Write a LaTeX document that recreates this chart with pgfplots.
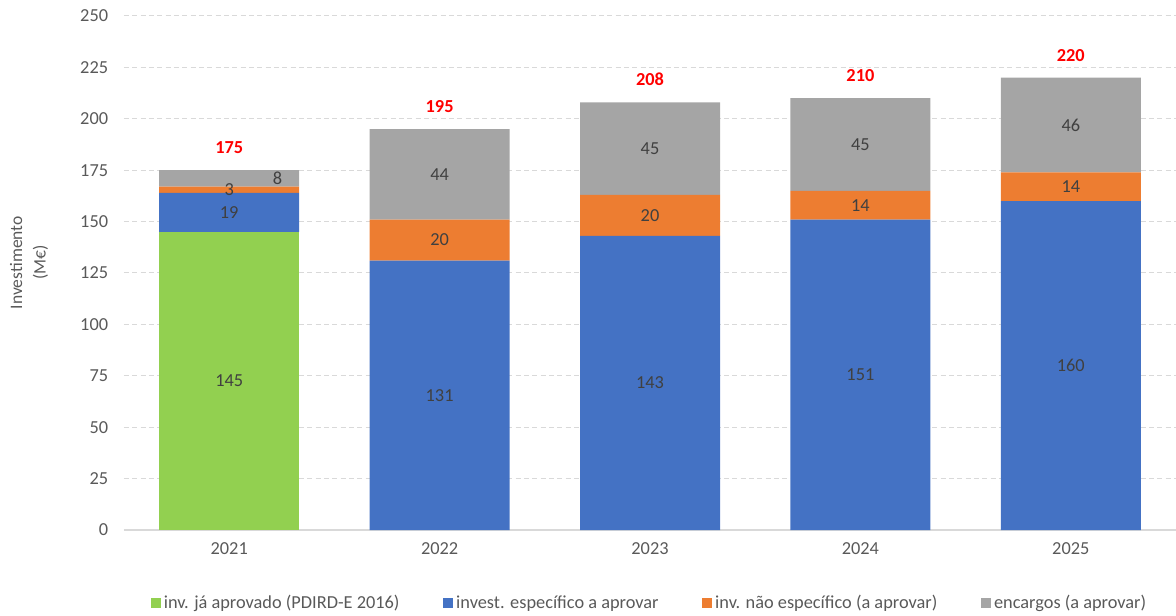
\documentclass[border=0pt]{standalone}
\usepackage{pgfplots}
\pgfplotsset{compat=1.18}
\usepackage{fontspec}
\setmainfont{Carlito}
\definecolor{cgreen}{HTML}{92D050}
\definecolor{cblue}{HTML}{4472C4}
\definecolor{corange}{HTML}{ED7D31}
\definecolor{cgray}{HTML}{A5A5A5}
\definecolor{ctext}{HTML}{595959}
\definecolor{clab}{HTML}{404040}
\definecolor{cgrid}{HTML}{D9D9D9}
\begin{document}
\begin{tikzpicture}
\begin{axis}[
  at={(0,0)}, anchor=south west,
  scale only axis, width=631.2pt, height=308.4pt,
  ybar stacked, bar width=84pt,
  xmin=-0.5, xmax=4.5, ymin=0, ymax=250,
  xtick={0,1,2,3,4}, xticklabels={2021,2022,2023,2024,2025},
  ytick={0,25,...,250},
  axis x line*=bottom, axis y line*=left,
  x axis line style={draw=cgrid, line width=0.8pt, -},
  y axis line style={draw=none},
  tick style={draw=none},
  ymajorgrids, grid style={draw=cgrid, dash pattern=on 3pt off 2pt, line width=0.6pt},
  ticklabel style={font=\fontsize{11}{13}\selectfont, text=ctext},
  /pgf/number format/assume math mode=true,
  xticklabel style={yshift=-4pt},
  yticklabel style={xshift=-6pt},
  every axis y label/.style={at={(rel axis cs:0,0.52)}, xshift=-57pt, rotate=90, anchor=center,
    align=center, font=\fontsize{10.5}{14}\selectfont, text=ctext},
  ylabel={Investimento\\(M€)},
  legend columns=4,
  legend style={at={(0.5,0)}, anchor=center, yshift=-44pt, draw=none, fill=none,
    font=\fontsize{11}{13}\selectfont, text=ctext,
    nodes={inner xsep=2pt},
    /tikz/every even column/.append style={column sep=24pt}},
  legend image code/.code={\fill[#1] (0pt,-3pt) rectangle (6pt,3pt);},
  legend cell align=left,
]
\addplot[fill=cgreen, draw=none] coordinates {(0,145) (1,0) (2,0) (3,0) (4,0)};
\addplot[fill=cblue, draw=none] coordinates {(0,19) (1,131) (2,143) (3,151) (4,160)};
\addplot[fill=corange, draw=none] coordinates {(0,3) (1,20) (2,20) (3,14) (4,14)};
\addplot[fill=cgray, draw=none] coordinates {(0,8) (1,44) (2,45) (3,45) (4,46)};
\legend{inv. já aprovado (PDIRD-E 2016), invest. específico a aprovar, inv. não específico (a aprovar), encargos (a aprovar)}
\end{axis}
\begin{axis}[
  at={(0,0)}, anchor=south west,
  scale only axis, width=631.2pt, height=308.4pt,
  xmin=-0.5, xmax=4.5, ymin=0, ymax=250,
  hide axis,
]
\addplot[draw=none, mark=none, nodes near coords, point meta=explicit symbolic,
  every node near coord/.style={anchor=center, font=\fontsize{11}{13}\selectfont, text=clab}]
  table[meta=lab] {
x y lab
0 72.5 145
0 154.5 19
0 165.5 3
0.23 171 8
1 65.5 131
1 141 20
1 173 44
2 71.5 143
2 153 20
2 185.5 45
3 75.5 151
3 158 14
3 187.5 45
4 80 160
4 167 14
4 197 46
};
\addplot[draw=none, mark=none, nodes near coords, point meta=explicit symbolic,
  every node near coord/.style={anchor=center, font=\bfseries\fontsize{11}{13}\selectfont, text=red}]
  table[meta=lab] {
x y lab
0 186 175
1 206 195
2 219 208
3 221 210
4 231 220
};
\end{axis}
\pgfresetboundingbox
\path[use as bounding box] (-74.4pt,-51pt) rectangle (631.2pt,318pt);
\end{tikzpicture}
\end{document}
